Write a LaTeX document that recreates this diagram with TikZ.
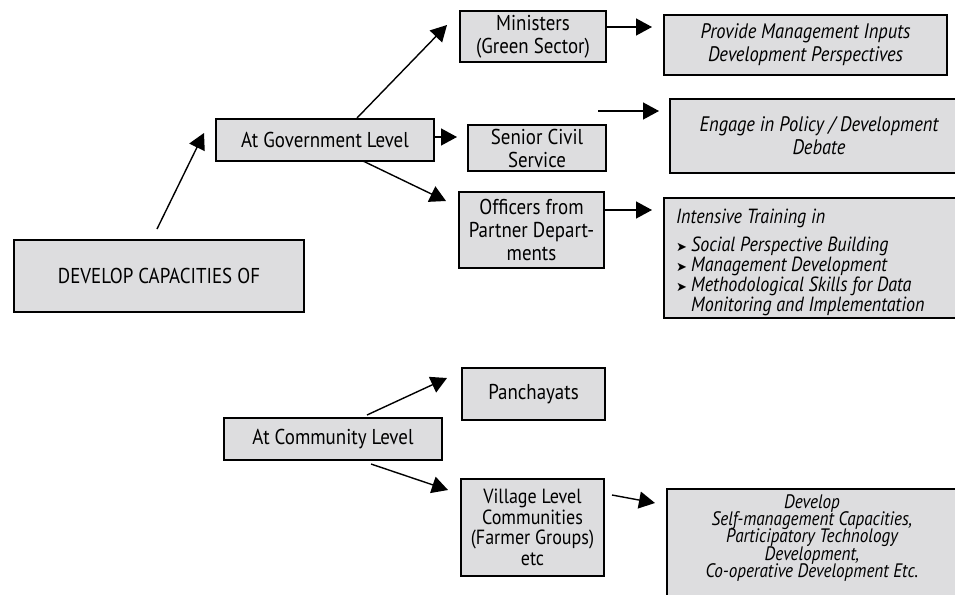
\documentclass[tikz,border=0pt]{standalone}
\usepackage{fontspec}
\setmainfont{PT Sans}[FakeStretch=0.88]
\newfontfamily\symfont{DejaVu Sans}
\usetikzlibrary{arrows.meta}
\definecolor{boxfill}{RGB}{221,221,223}
\newcommand\bul{\makebox[15pt][l]{\raisebox{0.5pt}{\symfont\fontsize{13}{13}\selectfont ➤}}}
\tikzset{
  box/.style={draw, line width=2.6pt, fill=boxfill, inner sep=0pt, align=center,
              font=\fontsize{21.5}{23}\selectfont},
  ibox/.style={box, font=\fontsize{21}{23}\selectfont\itshape},
  itext/.style={inner sep=0pt, font=\fontsize{20.5}{20}\selectfont\itshape},
  conn/.style={line width=1.4pt, -{Triangle[length=16pt,width=17pt]}},
}
\begin{document}
\begin{tikzpicture}[x=1pt,y=-1pt]
\clip (0,0) rectangle (955,594);
\fill[white] (0,0) rectangle (955,594);

% main boxes
\node[box, minimum width=290pt, minimum height=72pt] (dev) at (159,276) {DEVELOP CAPACITIES OF};
\node[box, minimum width=218pt, minimum height=42pt] (gov) at (325,140) {At Government Level};
\node[box, minimum width=218pt, minimum height=42pt] (com) at (333,439) {At Community Level};

% government branch
\node[box, minimum width=146pt, minimum height=51pt] (min) at (533,36.5) {Ministers\\(Green Sector)};
\node[box, minimum width=138pt, minimum height=46pt] (sen) at (537,148) {Senior Civil\\Service};
\node[box, minimum width=145pt, minimum height=76pt] (off) at (531.5,230) {Officers from\\Partner Depart-\\ments};

\node[ibox, minimum width=283pt, minimum height=60pt] (prov) at (805.5,45) {Provide Management Inputs\\Development Perspectives};
\node[ibox, minimum width=298pt, minimum height=74pt] (eng) at (819,136) {Engage in Policy / Development\\Debate};
\node[box, minimum width=298pt, minimum height=120pt] (int) at (813,258) {};
\node[itext, align=left, anchor=north west] (intt) at (676,209)
  {Intensive Training in\\[8pt]
   \bul Social Perspective Building\\
   \bul Management Development\\
   \bul Methodological Skills for Data\\
   \hphantom{\bul}Monitoring and Implementation};

% community branch
\node[box, minimum width=143pt, minimum height=52pt] (pan) at (533.5,394) {Panchayats};
\node[box, minimum width=143pt, minimum height=97pt, font=\fontsize{20.5}{20.5}\selectfont] (vil) at (532.5,527.5)
  {Village Level\\Communities\\(Farmer Groups)\\etc};
\node[box, minimum width=298pt, minimum height=112pt] (cap) at (816,545) {};
\node[itext, align=center, font=\fontsize{19.5}{17.6}\selectfont\itshape] (capt) at (812,538)
  {Develop\\[-1.6pt]Self-management Capacities,\\[-1.6pt]Participatory Technology\\[-1.6pt]Development,\\[-1.6pt]Co-operative Development Etc.};

% connector end points
\coordinate (a1s) at (157,229);  \coordinate (a1e) at (204,133);
\coordinate (a2s) at (357,118);  \coordinate (a2e) at (447,25);
\coordinate (a3e) at (457,137);
\coordinate (a4s) at (363,161);  \coordinate (a4e) at (446,201);
\coordinate (a5e) at (652,27);
\coordinate (a6s) at (598,111);  \coordinate (a6e) at (659,111);
\coordinate (a7e) at (652,210);
\coordinate (a8s) at (367,415);  \coordinate (a8e) at (447,378);
\coordinate (a9s) at (371,464);  \coordinate (a9e) at (448,490);
\coordinate (a10s) at (612,495); \coordinate (a10e) at (655,503);

% connectors
\draw[conn] (a1s) -- (a1e);
\draw[conn] (a2s) -- (a2e);
\draw[conn] (gov.east |- a3e) -- (a3e);
\draw[conn] (a4s) -- (a4e);
\draw[conn] (min.east |- a5e) -- (a5e);
\draw[conn] (a6s) -- (a6e);
\draw[conn] (off.east |- a7e) -- (a7e);
\draw[conn] (a8s) -- (a8e);
\draw[conn] (a9s) -- (a9e);
\draw[conn] (a10s) -- (a10e);
\end{tikzpicture}
\end{document}
